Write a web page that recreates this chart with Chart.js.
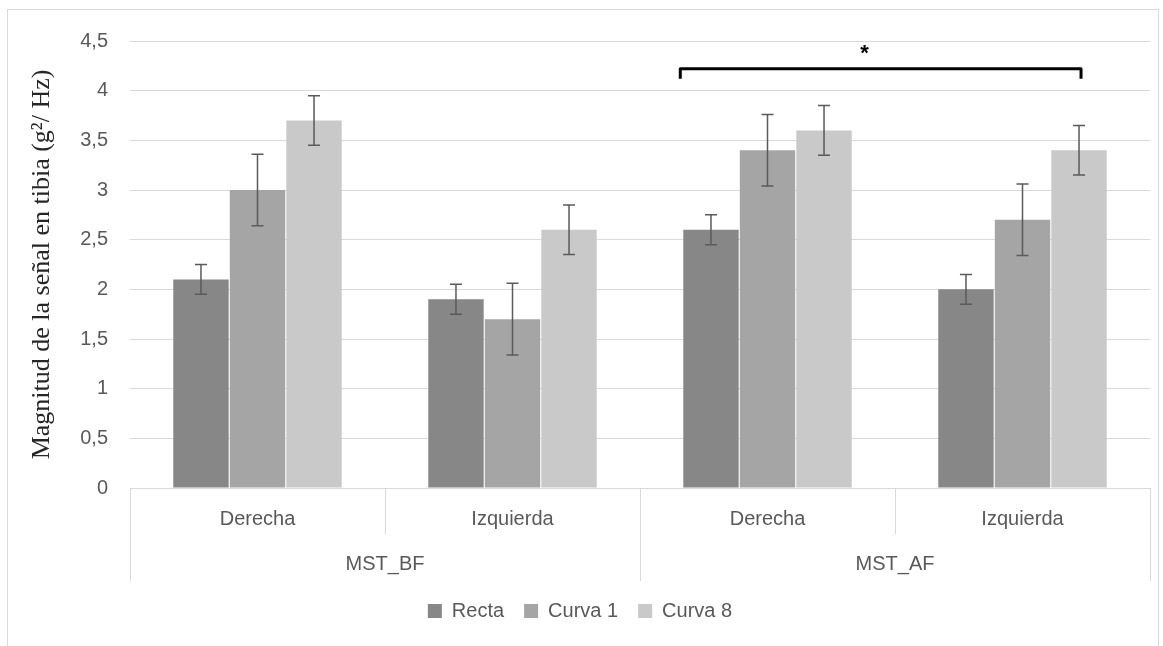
<!DOCTYPE html>
<html>
<head>
<meta charset="utf-8">
<script src="https://cdn.jsdelivr.net/npm/chart.js@4"></script>
<style>
  html, body { margin: 0; padding: 0; background: #fff; }
  #frame { position: absolute; left: 7px; top: 9px; width: 1150px; height: 660px; border: 1px solid #d9d9d9; }
  #wrap { position: absolute; left: 0; top: 0; width: 1163px; height: 646px; }
</style>
</head>
<body>
<div id="frame"></div>
<div id="wrap"><canvas id="chart"></canvas></div>
<script>
// data
const subLabels = ["Derecha", "Izquierda", "Derecha", "Izquierda"];
const groupLabels = ["MST_BF", "MST_AF"];
const seriesNames = ["Recta", "Curva 1", "Curva 8"];
const recta = [2.1, 1.9, 2.6, 2.0];
const curva1 = [3.0, 1.7, 3.4, 2.7];
const curva8 = [3.7, 2.6, 3.6, 3.4];
const rectaErr = [0.15, 0.15, 0.15, 0.15];
const curva1Err = [0.36, 0.36, 0.36, 0.36];
const curva8Err = [0.25, 0.25, 0.25, 0.25];
const yTickLabels = ["0", "0,5", "1", "1,5", "2", "2,5", "3", "3,5", "4", "4,5"];
const yTitle = "Magnitud de la señal en tibia (g²/ Hz)";
const signifMark = "*";

const colors = ["#878787", "#a5a5a5", "#c9c9c9"];
const textGray = "#595959";
const lineGray = "#d9d9d9";
const sansFont = "'Liberation Sans Narrow', 'Liberation Sans', Arial, sans-serif";

// error bars on every bar
const errorBars = {
  id: "errorBars",
  afterDatasetsDraw(chart) {
    const ctx = chart.ctx;
    const y = chart.scales.y;
    ctx.save();
    ctx.strokeStyle = "#5a5a5a";
    ctx.lineWidth = 1.5;
    chart.data.datasets.forEach((ds, i) => {
      chart.getDatasetMeta(i).data.forEach((bar, j) => {
        const top = y.getPixelForValue(ds.data[j] + ds.err[j]);
        const bot = y.getPixelForValue(ds.data[j] - ds.err[j]);
        ctx.beginPath();
        ctx.moveTo(bar.x, top); ctx.lineTo(bar.x, bot);
        ctx.moveTo(bar.x - 6, top); ctx.lineTo(bar.x + 6, top);
        ctx.moveTo(bar.x - 6, bot); ctx.lineTo(bar.x + 6, bot);
        ctx.stroke();
      });
    });
    ctx.restore();
  }
};

// significance bracket over MST_AF
const bracket = {
  id: "bracket",
  afterDatasetsDraw(chart) {
    const ctx = chart.ctx;
    const y = chart.scales.y;
    const first = chart.getDatasetMeta(0).data[2];
    const last = chart.getDatasetMeta(2).data[3];
    const x1 = first.x - first.width / 2 - 3;
    const x2 = last.x + 2;
    const yLine = y.getPixelForValue(4.22);
    const yEnd = y.getPixelForValue(4.12);
    ctx.save();
    ctx.strokeStyle = "#000";
    ctx.lineWidth = 3;
    ctx.lineJoin = "round";
    ctx.beginPath();
    ctx.moveTo(x1, yEnd); ctx.lineTo(x1, yLine); ctx.lineTo(x2, yLine); ctx.lineTo(x2, yEnd);
    ctx.stroke();
    ctx.fillStyle = "#000";
    ctx.font = "bold 22px 'Liberation Sans', Arial, sans-serif";
    ctx.textAlign = "center";
    ctx.textBaseline = "middle";
    ctx.fillText(signifMark, x1 + (x2 - x1) * 0.46, y.getPixelForValue(4.37));
    ctx.restore();
  }
};

// axis line and the two-level category dividers
const dividers = {
  id: "dividers",
  afterDraw(chart) {
    const ctx = chart.ctx;
    const x = chart.scales.x;
    const x2s = chart.scales.x2;
    const area = chart.chartArea;
    const half = (x.getPixelForValue(1) - x.getPixelForValue(0)) / 2;
    ctx.save();
    ctx.strokeStyle = lineGray;
    ctx.lineWidth = 1;
    ctx.beginPath();
    ctx.moveTo(area.left, area.bottom + 0.5); ctx.lineTo(area.right, area.bottom + 0.5);
    for (let k = 0; k <= subLabels.length; k++) {
      const px = Math.round(x.getPixelForValue(0) - half + k * 2 * half) + 0.5;
      const bottom = k % 2 === 0 ? x2s.bottom : x.bottom;
      ctx.moveTo(px, area.bottom); ctx.lineTo(px, bottom);
    }
    ctx.stroke();
    ctx.restore();
  }
};

const errs = [rectaErr, curva1Err, curva8Err];
const values = [recta, curva1, curva8];

new Chart(document.getElementById("chart"), {
  type: "bar",
  data: {
    labels: subLabels,
    datasets: seriesNames.map((name, i) => ({
      label: name,
      data: values[i],
      err: errs[i],
      backgroundColor: colors[i],
      borderWidth: 0,
      barPercentage: 0.98,
      categoryPercentage: 0.665
    }))
  },
  options: {
    responsive: true,
    maintainAspectRatio: false,
    animation: false,
    layout: { padding: { left: 10, right: 13, top: 41, bottom: 15 } },
    scales: {
      x: {
        weight: 0,
        grid: { display: false, drawTicks: false },
        border: { display: false },
        ticks: { color: textGray, font: { family: sansFont, size: 20 }, padding: 19 },
        afterFit: (s) => { s.height = 46; }
      },
      x2: {
        type: "category",
        labels: groupLabels,
        position: "bottom",
        weight: 1,
        grid: { display: false, drawTicks: false },
        border: { display: false },
        ticks: { color: textGray, font: { family: sansFont, size: 20 }, padding: 18 },
        afterFit: (s) => { s.height = 47; }
      },
      y: {
        min: 0,
        max: 4.5,
        ticks: {
          stepSize: 0.5,
          color: textGray,
          font: { family: sansFont, size: 20 },
          padding: 22,
          callback: (v, i) => yTickLabels[i]
        },
        grid: { color: lineGray, drawTicks: false },
        border: { display: false },
        title: {
          display: true,
          text: yTitle,
          color: "#262626",
          font: { family: "'Liberation Serif', 'Times New Roman', serif", size: 26 },
          padding: { top: 17, bottom: 0 }
        },
        afterFit: (s) => { s.width = 120; }
      }
    },
    plugins: {
      legend: {
        position: "bottom",
        labels: {
          boxWidth: 14,
          boxHeight: 14,
          padding: 20,
          color: textGray,
          font: { family: sansFont, size: 20 }
        }
      },
      tooltip: { enabled: false }
    }
  },
  plugins: [errorBars, bracket, dividers]
});
</script>
</body>
</html>
